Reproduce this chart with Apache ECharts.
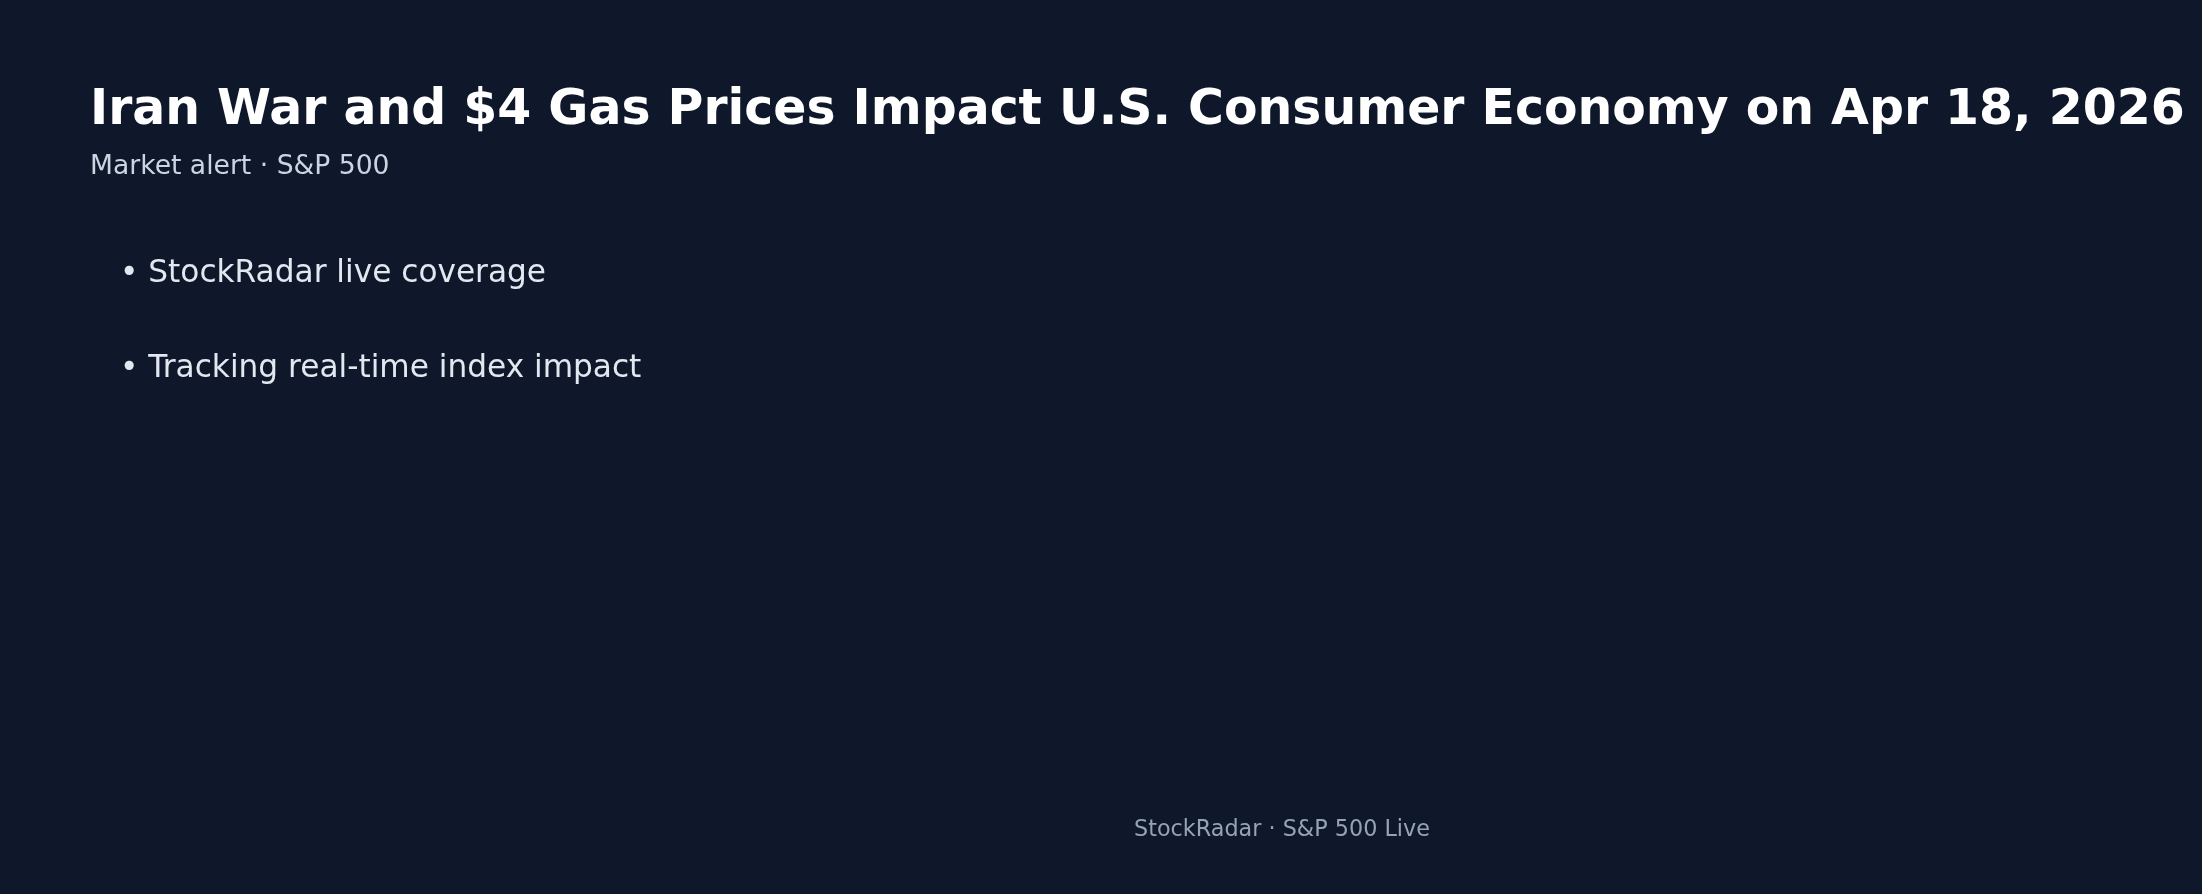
<!DOCTYPE html>
<html>
<head>
<meta charset="utf-8">
<script src="https://cdn.jsdelivr.net/npm/echarts@6/dist/echarts.min.js"></script>
<style>
  html, body { margin: 0; padding: 0; background: #0f172a; }
  #chart { width: 2202px; height: 894px; }
</style>
</head>
<body>
<div id="chart"></div>
<script>
// texts of the card
const titleText = "Iran War and $4 Gas Prices Impact U.S. Consumer Economy on Apr 18, 2026"
const subtitleText = "Market alert · S&P 500"
const bulletLines = ["StockRadar live coverage", "Tracking real-time index impact"]
const footerText = "StockRadar · S&P 500 Live"

var myChart = echarts.init(document.getElementById("chart"))
var font = "DejaVu Sans"

var elements = []
elements.push({
    type: 'text',
    left: 90,
    top: 87,
    style: {
        text: titleText,
        fill: '#ffffff',
        font: 'bold 48.9px "' + font + '"'
    }
})
elements.push({
    type: 'text',
    left: 90,
    top: 154,
    style: {
        text: subtitleText,
        fill: '#cbd5e1',
        font: '26.6px "' + font + '"'
    }
})
bulletLines.forEach((line, index) => {
    elements.push({
        type: 'text',
        left: 120,
        top: 258 + index * 95,
        style: {
            text: "• " + line,
            fill: '#e2e8f0',
            font: '31.2px "' + font + '"'
        }
    })
})
elements.push({
    type: 'text',
    x: 1282,
    y: 830,
    style: {
        text: footerText,
        fill: '#94a3b8',
        font: '22.3px "' + font + '"',
        align: 'center',
        verticalAlign: 'middle'
    }
})

option = {
    backgroundColor: '#0f172a',
    graphic: { elements: elements }
}
myChart.setOption(option)
</script>
</body>
</html>
